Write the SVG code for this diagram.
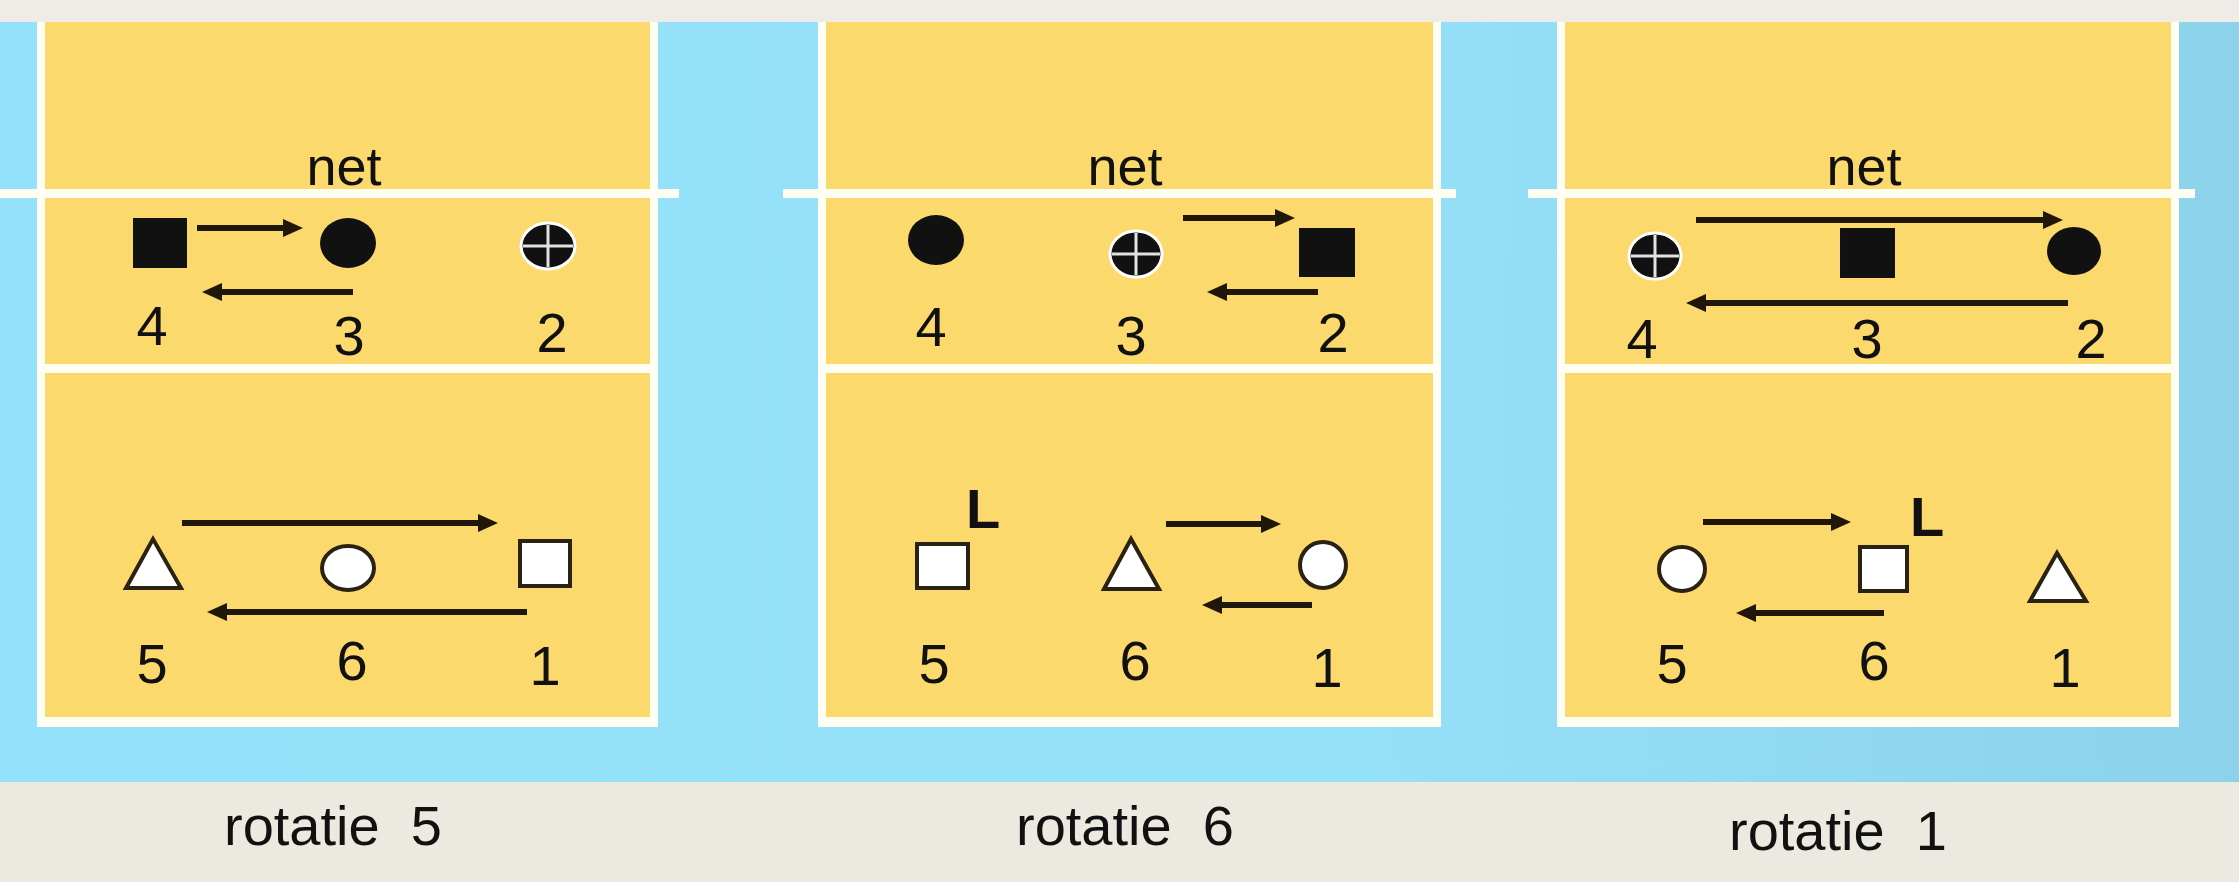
<svg xmlns="http://www.w3.org/2000/svg" width="2239" height="882" viewBox="0 0 2239 882">
  <defs>
    <linearGradient id="water" x1="0" y1="0" x2="1" y2="0">
      <stop offset="0" stop-color="#93E1FA"/>
      <stop offset="0.6" stop-color="#95E1F9"/>
      <stop offset="1" stop-color="#8BD2EA"/>
    </linearGradient>
    <marker id="ah" markerUnits="userSpaceOnUse" markerWidth="20" markerHeight="18" refX="6" refY="9" orient="auto">
      <path d="M0,0 L20,9 L0,18 Z" fill="#1E170A"/>
    </marker>
    <style>
      .floor { fill: #FCD96D; }
      .chalk { fill: #FFFEF3; }
      .txt { font-family: "Liberation Sans", Arial, Helvetica, sans-serif; fill: #111; }
      .num { font-size: 56px; text-anchor: middle; }
      .net { font-size: 54px; text-anchor: middle; }
      .lib { font-size: 56px; font-weight: bold; }
      .cap { font-size: 56px; white-space: pre; }
      .solid { fill: #111; }
      .open { fill: #FFFFFF; stroke: #2A2212; stroke-width: 4; }
      .setter { fill: #111; stroke: #FFFFFF; stroke-width: 3; }
      .cross { stroke: #E2E2E2; stroke-width: 3; fill: none; }
      .move { stroke: #1E170A; stroke-width: 6; fill: none; marker-end: url(#ah); }
    </style>
  </defs>

  <!-- backdrop -->
  <rect x="0" y="0" width="2239" height="882" fill="#ECE9E0"/>
  <rect x="0" y="22" width="2239" height="760" fill="url(#water)"/>
  <rect x="0" y="0" width="2239" height="22" fill="#EFEBE6"/>

  <!-- courts -->
  <g id="court-r5">
    <rect class="floor" x="41" y="22" width="613" height="700"/>
    <rect class="chalk" x="37" y="22" width="8" height="705"/>
    <rect class="chalk" x="650" y="22" width="8" height="705"/>
    <rect class="chalk" x="37" y="717" width="621" height="10"/>
    <rect class="chalk" x="41" y="364" width="613" height="9"/>
    <rect class="chalk" x="0" y="189" width="679" height="9"/>
    <text class="txt net" x="344" y="185">net</text>
  </g>
  <g id="court-r6">
    <rect class="floor" x="822" y="22" width="615" height="700"/>
    <rect class="chalk" x="818" y="22" width="8" height="705"/>
    <rect class="chalk" x="1433" y="22" width="8" height="705"/>
    <rect class="chalk" x="818" y="717" width="623" height="10"/>
    <rect class="chalk" x="822" y="364" width="615" height="9"/>
    <rect class="chalk" x="783" y="189" width="673" height="9"/>
    <text class="txt net" x="1125" y="185">net</text>
  </g>
  <g id="court-r1">
    <rect class="floor" x="1561" y="22" width="614" height="700"/>
    <rect class="chalk" x="1557" y="22" width="8" height="705"/>
    <rect class="chalk" x="2171" y="22" width="8" height="705"/>
    <rect class="chalk" x="1557" y="717" width="622" height="10"/>
    <rect class="chalk" x="1561" y="364" width="614" height="9"/>
    <rect class="chalk" x="1528" y="189" width="667" height="9"/>
    <text class="txt net" x="1864" y="185">net</text>
  </g>

  <!-- movement arrows -->
  <g id="connectors">
    <!-- rotatie 5 -->
    <path class="move" d="M197,228 H289"/>
    <path class="move" d="M353,292 H216"/>
    <path class="move" d="M182,523 H484"/>
    <path class="move" d="M527,612 H221"/>
    <!-- rotatie 6 -->
    <path class="move" d="M1183,218 H1281"/>
    <path class="move" d="M1318,292 H1221"/>
    <path class="move" d="M1166,524 H1267"/>
    <path class="move" d="M1312,605 H1216"/>
    <!-- rotatie 1 -->
    <path class="move" d="M1696,220 H2049"/>
    <path class="move" d="M2068,303 H1700"/>
    <path class="move" d="M1703,522 H1837"/>
    <path class="move" d="M1884,613 H1750"/>
  </g>

  <!-- players, rotatie 5 -->
  <g id="r5-p4">
    <rect class="solid" x="133" y="218" width="54" height="50"/>
    <text class="txt num" x="152" y="345">4</text>
  </g>
  <g id="r5-p3">
    <ellipse class="solid" cx="348" cy="243" rx="28" ry="25"/>
    <text class="txt num" x="349" y="355">3</text>
  </g>
  <g id="r5-p2">
    <ellipse class="setter" cx="548" cy="246" rx="27" ry="23"/>
    <path class="cross" d="M523,246 H573 M548,225 V267"/>
    <text class="txt num" x="552" y="352">2</text>
  </g>
  <g id="r5-p5">
    <polygon class="open" points="126,588 181,588 153,539"/>
    <text class="txt num" x="152" y="683">5</text>
  </g>
  <g id="r5-p6">
    <ellipse class="open" cx="348" cy="568" rx="26" ry="22"/>
    <text class="txt num" x="352" y="680">6</text>
  </g>
  <g id="r5-p1">
    <rect class="open" x="520" y="541" width="50" height="45"/>
    <text class="txt num" x="545" y="685">1</text>
  </g>
  <text class="txt cap" x="224" y="845">rotatie  5</text>

  <!-- players, rotatie 6 -->
  <g id="r6-p4">
    <ellipse class="solid" cx="936" cy="240" rx="28" ry="25"/>
    <text class="txt num" x="931" y="346">4</text>
  </g>
  <g id="r6-p3">
    <ellipse class="setter" cx="1136" cy="254" rx="26" ry="23"/>
    <path class="cross" d="M1112,254 H1160 M1136,233 V275"/>
    <text class="txt num" x="1131" y="355">3</text>
  </g>
  <g id="r6-p2">
    <rect class="solid" x="1299" y="228" width="56" height="49"/>
    <text class="txt num" x="1333" y="352">2</text>
  </g>
  <g id="r6-p5">
    <rect class="open" x="917" y="544" width="51" height="44"/>
    <text class="txt lib" x="966" y="528">L</text>
    <text class="txt num" x="934" y="683">5</text>
  </g>
  <g id="r6-p6">
    <polygon class="open" points="1104,589 1159,589 1131,539"/>
    <text class="txt num" x="1135" y="680">6</text>
  </g>
  <g id="r6-p1">
    <ellipse class="open" cx="1323" cy="565" rx="23" ry="23"/>
    <text class="txt num" x="1327" y="687">1</text>
  </g>
  <text class="txt cap" x="1016" y="845">rotatie  6</text>

  <!-- players, rotatie 1 -->
  <g id="r1-p4">
    <ellipse class="setter" cx="1655" cy="256" rx="26" ry="23"/>
    <path class="cross" d="M1631,256 H1679 M1655,235 V277"/>
    <text class="txt num" x="1642" y="358">4</text>
  </g>
  <g id="r1-p3">
    <rect class="solid" x="1840" y="228" width="55" height="50"/>
    <text class="txt num" x="1867" y="358">3</text>
  </g>
  <g id="r1-p2">
    <ellipse class="solid" cx="2074" cy="251" rx="27" ry="24"/>
    <text class="txt num" x="2091" y="358">2</text>
  </g>
  <g id="r1-p5">
    <ellipse class="open" cx="1682" cy="569" rx="23" ry="22"/>
    <text class="txt num" x="1672" y="683">5</text>
  </g>
  <g id="r1-p6">
    <rect class="open" x="1860" y="547" width="47" height="44"/>
    <text class="txt lib" x="1910" y="536">L</text>
    <text class="txt num" x="1874" y="680">6</text>
  </g>
  <g id="r1-p1">
    <polygon class="open" points="2030,601 2086,601 2057,553"/>
    <text class="txt num" x="2065" y="687">1</text>
  </g>
  <text class="txt cap" x="1729" y="850">rotatie  1</text>
</svg>
